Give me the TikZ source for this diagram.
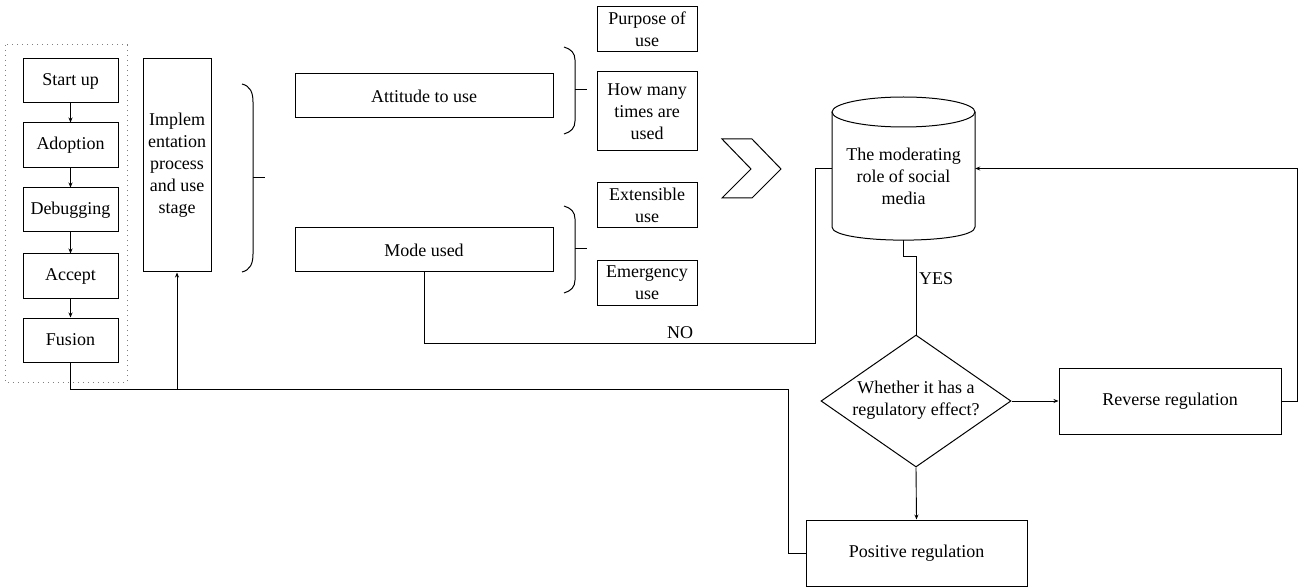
\documentclass[tikz,border=0pt]{standalone}
\usepackage{fontspec}
\setmainfont{Liberation Serif}
\usetikzlibrary{shapes.geometric,arrows.meta}
\begin{document}
\begin{tikzpicture}[x=1pt,y=-1pt,
  every node/.style={font=\fontsize{18}{22}\selectfont, inner sep=0pt, align=center},
  box/.style={draw, line width=1pt, rectangle},
  wire/.style={line width=0.9pt},
  arr/.style={wire, -{Stealth[length=5pt,width=4pt]}},
  brace/.style={line width=1pt}
]
\useasboundingbox (0,0) rectangle (1307,588);

% left stage column
\draw[gray, line width=1pt, dash pattern=on 1.2pt off 3.8pt] (5,45) rectangle (127,382);
\node[box, minimum width=95pt, minimum height=44pt] (start) at (70.5,81) {Start up};
\node[box, minimum width=95pt, minimum height=45pt] (adopt) at (70.5,145.5) {Adoption};
\node[box, minimum width=95pt, minimum height=44pt] (debug) at (70.5,210) {Debugging};
\node[box, minimum width=95pt, minimum height=44pt] (accept) at (70.5,276) {Accept};
\node[box, minimum width=95pt, minimum height=44pt] (fusion) at (70.5,340) {Fusion};
\draw[arr] (start) -- (adopt);
\draw[arr] (adopt) -- (debug);
\draw[arr] (debug) -- (accept);
\draw[arr] (accept) -- (fusion);

\node[box, minimum width=68pt, minimum height=213pt] (impl) at (177,165.5)
  {Implem\\entation\\process\\and use\\stage};

% big brace
\draw[brace] (242,84) .. controls (250,86) and (253,92) .. (253,102) -- (253,254)
  .. controls (253,264) and (250,270) .. (242,272);
\draw[brace] (253,178) -- (265,178);

\node[box, minimum width=258pt, minimum height=44pt] (att) at (424,96) {Attitude to use};
\node[box, minimum width=258pt, minimum height=44pt] (mode) at (424,250) {Mode used};

% right braces
\draw[brace] (564,47) .. controls (571,49) and (575,53) .. (575,60) -- (575,121)
  .. controls (575,128) and (571,132) .. (564,134);
\draw[brace] (575,90) -- (587,90);
\draw[brace] (564,206) .. controls (571,208) and (575,212) .. (575,219) -- (575,280)
  .. controls (575,287) and (571,291) .. (564,293);
\draw[brace] (575,249) -- (587,249);

\node[box, minimum width=100pt, minimum height=45pt] (purp) at (647,29.5) {Purpose of\\use};
\node[box, minimum width=100pt, minimum height=79pt] (howm) at (647,111.5) {How many\\times are\\used};
\node[box, minimum width=100pt, minimum height=45pt] (ext) at (647,205.5) {Extensible\\use};
\node[box, minimum width=100pt, minimum height=44pt] (emer) at (647,283) {Emergency\\use};

% chevron
\draw[line width=1pt, line join=miter] (722,139) -- (752,139) -- (781,169) -- (752,198) -- (722,198) -- (751,169) -- cycle;

% cylinder
\node[minimum width=143pt, minimum height=143pt] (cyl) at (903.5,168.5) {};
\draw[line width=1pt] (832,112) -- (832,227) .. controls (832,244.5) and (975,244.5) .. (975,227) -- (975,112);
\draw[line width=1pt] (903.5,112) ellipse[x radius=71.5pt, y radius=15pt];
\node at (903.5,176) {The moderating\\role of social\\media};

% diamond
\node[diamond, draw, line width=1pt, minimum width=190pt, minimum height=132pt] (dia) at (916,401) {};
\node at (916,400) {Whether it has a\\regulatory effect?};

\node[box, minimum width=222pt, minimum height=66pt] (rev) at (1170,401) {Reverse regulation};
\node[box, minimum width=221pt, minimum height=66pt] (pos) at (916.5,553) {Positive regulation};

% connectors
\coordinate (f1) at (70.5,389);
\coordinate (jn) at (177,389);
\coordinate (f2) at (788,389);
\coordinate (f3) at (788,553);
\draw[wire] (fusion.south) -- (f1) -- (f2) -- (f3) -- (pos.west);
\draw[arr] (jn) -- (impl.south);

\coordinate (m1) at (424,343);
\coordinate (m2) at (815,343);
\coordinate (m3) at (815,168.5);
\draw[wire] (mode.south) -- (m1) -- (m2) -- (m3) -- (cyl.west);
\node at (680,333) {NO};

\coordinate (y1) at (903.5,256);
\coordinate (y2) at (916,256);
\draw[wire] (cyl.south) -- (y1) -- (y2) -- (dia.north);
\node[anchor=west] at (919,279) {YES};

\draw[arr] (dia.east) -- (rev.west);
\draw[arr] (dia.south) -- (pos.north);

\coordinate (r1) at (1297,401);
\coordinate (r2) at (1297,168.5);
\draw[wire] (rev.east) -- (r1) -- (r2);
\draw[arr] (r2) -- (cyl.east);
\end{tikzpicture}
\end{document}
